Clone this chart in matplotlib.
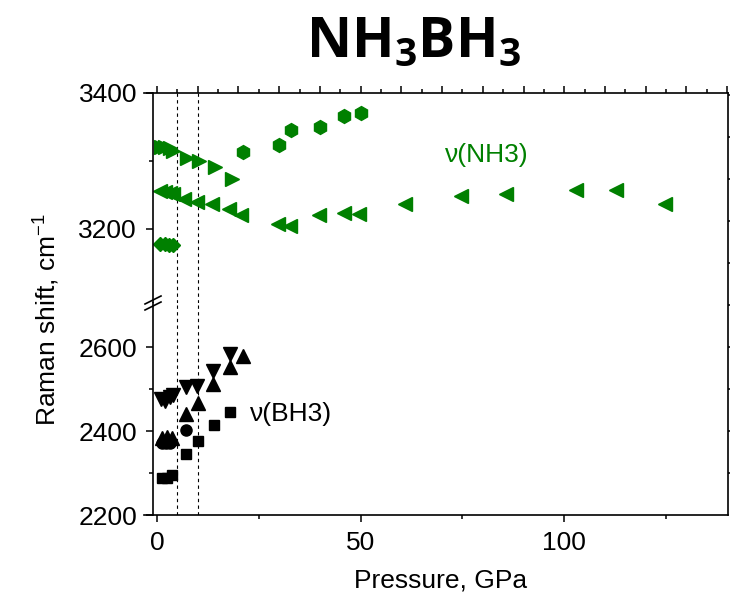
import numpy as np
import matplotlib.pyplot as plt
from matplotlib.lines import Line2D

plt.rcParams['font.family'] = ['Liberation Sans', 'DejaVu Sans']
plt.rcParams['mathtext.fontset'] = 'custom'
plt.rcParams['mathtext.rm'] = 'Liberation Sans'
plt.rcParams['mathtext.bf'] = 'Open Sans:bold'

# NH3 stretching modes (upper panel)
p_hex = [21, 30, 33, 40, 46, 50]
nh_hex = [3313, 3323, 3346, 3350, 3366, 3371]
p_rt = [1, 2, 3.2, 4, 7.3, 10.3, 14.3, 18.4]
nh_rt = [3321, 3320, 3319, 3315, 3304, 3300, 3291, 3274]
p_lt = [0.7, 2, 3.2, 4, 6.5, 9.7, 13.6, 17.7, 20.6, 29.6, 32.7, 39.8, 45.8,
        49.7, 60.8, 74.7, 85.8, 102.9, 112.8, 124.8]
nh_lt = [3256, 3255, 3253, 3252, 3244, 3240, 3237, 3229, 3221, 3207, 3205,
         3221, 3224, 3222, 3237, 3248, 3252, 3257, 3257, 3236]
p_dia = [0.7, 2, 3, 3.8]
nh_dia = [3178, 3178, 3177, 3177]

# BH3 stretching modes (lower panel)
p_dn = [0.9, 2, 3.2, 3.8, 7, 9.9, 13.8, 17.9]
bh_dn = [2476, 2472, 2482, 2486, 2504, 2507, 2544, 2584]
p_up = [1.2, 2.4, 3.6, 7, 10, 13.8, 17.9, 21]
bh_up = [2383, 2385, 2383, 2440, 2466, 2512, 2552, 2579]
p_ci = [1.3, 2.3, 3.3, 7]
bh_ci = [2371, 2371, 2371, 2402]
p_sq = [1.2, 2.4, 3.6, 7, 10, 14, 17.9]
bh_sq = [2287, 2287, 2295, 2346, 2377, 2414, 2445]

green = '#008000'
fs = 19
W, H = 730, 600
fig = plt.figure(figsize=(7.3, 6), dpi=100)

x0, x1 = 144 / W, 728 / W
y_top, y_brk, y_bot = 93, 303, 515
ax_up = fig.add_axes([x0, 1 - y_brk / H, x1 - x0, (y_brk - y_top) / H])
ax_lo = fig.add_axes([x0, 1 - y_bot / H, x1 - x0, (y_bot - y_brk) / H])
ax_r = fig.add_axes([x0, 1 - y_bot / H, x1 - x0, (y_bot - y_top) / H])

xlim = (-3.2, 140.2)
for ax in (ax_up, ax_lo):
    ax.set_xlim(*xlim)
    ax.spines['left'].set_position(('data', -1.0))
    ax.spines['right'].set_visible(False)
    for s in ax.spines.values():
        s.set_linewidth(1.2)
    ax.tick_params(axis='both', which='major', length=5, width=1.1,
                   labelsize=fs, pad=6.5)
    ax.tick_params(axis='both', which='minor', length=3, width=1.1)
    ax.axvline(5, color='k', lw=0.8, ls=(0, (3, 3)))
    ax.axvline(10, color='k', lw=0.8, ls=(0, (3, 3)))

# upper panel
ax_up.set_ylim(3091, 3400)
ax_up.spines['bottom'].set_visible(False)
ax_up.set_yticks([3200, 3400])
ax_up.set_yticks([3300], minor=True)
ax_up.xaxis.tick_top()
ax_up.set_xticks(np.arange(0, 141, 10))
ax_up.set_xticks(np.arange(5, 141, 10), minor=True)
ax_up.tick_params(axis='x', which='both', labeltop=False)
ax_up.plot(p_hex, nh_hex, 'h', color=green, ms=10, ls='none')
ax_up.plot(p_rt, nh_rt, '>', color=green, ms=10, ls='none')
ax_up.plot(p_lt, nh_lt, '<', color=green, ms=10, ls='none')
ax_up.plot(p_dia, nh_dia, 'D', color=green, ms=7, ls='none')
ax_up.text(70.8, 3309, 'ν(NH3)', color=green, fontsize=fs, va='center')

# lower panel
ax_lo.set_ylim(2200, 2705)
ax_lo.spines['top'].set_visible(False)
ax_lo.set_yticks([2200, 2400, 2600])
ax_lo.set_yticks([2300, 2500], minor=True)
ax_lo.set_xticks([0, 50, 100])
ax_lo.set_xticks([25, 75, 125], minor=True)
ax_lo.plot(p_dn, bh_dn, 'v', color='k', ms=10, ls='none')
ax_lo.plot(p_up, bh_up, '^', color='k', ms=10, ls='none')
ax_lo.plot(p_ci, bh_ci, 'o', color='k', ms=8, ls='none')
ax_lo.plot(p_sq, bh_sq, 's', color='k', ms=7, ls='none')
ax_lo.text(22.9, 2440, 'ν(BH3)', color='k', fontsize=fs, va='center')

# right-hand frame with its own tick marks
ax_r.patch.set_visible(False)
for side in ('left', 'top', 'bottom'):
    ax_r.spines[side].set_visible(False)
ax_r.spines['right'].set_linewidth(1.2)
ax_r.set_xticks([])
ax_r.set_ylim(2200, 2200 + (y_bot - y_top) / 0.42)
ax_r.yaxis.tick_right()
ax_r.set_yticks(np.arange(2300, 3201, 100))
ax_r.tick_params(axis='y', length=3, width=1.1, labelright=False)

# axis break marks on the left spine
xs = 153 / W
for dy in (-3, 3):
    yc = 1 - (y_brk + dy) / H
    fig.add_artist(Line2D([xs - 8 / W, xs + 8 / W], [yc - 4 / H, yc + 4 / H],
                          color='k', lw=1.2))

fig.text(0.062, 0.468, 'Raman shift, cm$^{-1}$', rotation=90,
         fontsize=fs, ha='center', va='center')
fig.text(0.603, 0.033, 'Pressure, GPa', fontsize=fs, ha='center', va='center')
fig.text(0.566, 0.928, r'$\mathbf{NH_3BH_3}$', fontsize=40,
         ha='center', va='center')

fig.savefig('out.png', dpi=100)
